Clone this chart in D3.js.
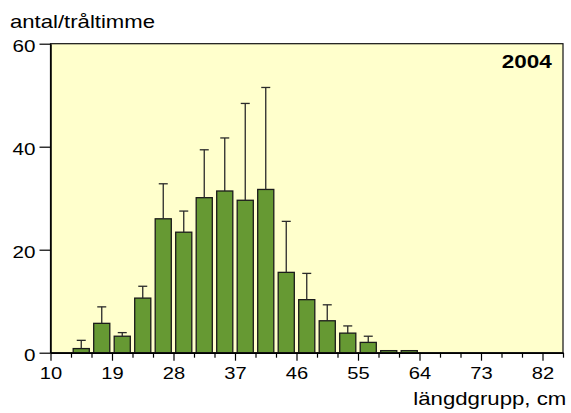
<!DOCTYPE html>
<html>
<head>
<meta charset="utf-8">
<script src="https://cdn.jsdelivr.net/npm/d3@7"></script>
<style>
  html, body { margin: 0; padding: 0; background: #ffffff; }
  svg { display: block; }
  text { font-family: "Liberation Sans", Arial, Helvetica, sans-serif; fill: #000; }
</style>
</head>
<body>
<svg id="chart" width="571" height="413"></svg>
<script>
// ---- data ----
const binStarts = [13, 16, 19, 22, 25, 28, 31, 34, 37, 40, 43, 46, 49, 52, 55, 58, 61];
const binWidth = 3;
const means = [0.8, 5.7, 3.2, 10.6, 26.0, 23.4, 30.1, 31.4, 29.6, 31.7, 15.6, 10.3, 6.2, 3.8, 2.0, 0.4, 0.4];
const upper = [2.4, 8.9, 3.9, 12.9, 32.8, 27.5, 39.4, 41.7, 48.4, 51.5, 25.5, 15.4, 9.3, 5.2, 3.2, null, null];
const xMajorTicks = [10, 19, 28, 37, 46, 55, 64, 73, 82];
const yTicks = [0, 20, 40, 60];
const yTitle = "antal/tråltimme";
const xTitle = "längdgrupp, cm";
const yearLabel = "2004";

// ---- layout ----
const svg = d3.select("#chart");
const mLeft = 50.5, mRight = 563, mTop = 43.7, mBottom = 352.7;

const x = d3.scaleLinear().domain([10, 85]).range([mLeft, mRight]);
const y = d3.scaleLinear().domain([0, 60]).range([mBottom, mTop]);

function stretch(sel, k) {
  sel.each(function () {
    const w = this.getComputedTextLength();
    this.setAttribute("textLength", w * k);
    this.setAttribute("lengthAdjust", "spacingAndGlyphs");
  });
}

// plot background + frame
svg.append("rect")
  .attr("x", mLeft).attr("y", mTop)
  .attr("width", mRight - mLeft).attr("height", mBottom - mTop)
  .attr("fill", "#ffffcc").attr("stroke", "#111").attr("stroke-width", 1.2);

// bars
const data = binStarts.map((s, i) => ({ s, m: means[i], u: upper[i] }));
svg.append("g").selectAll("rect").data(data).join("rect")
  .attr("x", d => x(d.s) + 2.2)
  .attr("width", d => x(d.s + binWidth) - x(d.s) - 4.4)
  .attr("y", d => y(d.m))
  .attr("height", d => y(0) - y(d.m))
  .attr("fill", "#669933")
  .attr("stroke", "#1a1a1a")
  .attr("stroke-width", 1.3);

// error bars
const eb = svg.append("g").attr("stroke", "#2a2a2a").attr("stroke-width", 1.3);
data.filter(d => d.u != null).forEach(d => {
  const cx = x(d.s + binWidth / 2);
  eb.append("line").attr("x1", cx).attr("x2", cx).attr("y1", y(d.m)).attr("y2", y(d.u));
  eb.append("line").attr("x1", cx - 4.5).attr("x2", cx + 4.5).attr("y1", y(d.u)).attr("y2", y(d.u));
});

// y axis
const gy = svg.append("g").attr("transform", `translate(${mLeft},0)`)
  .call(d3.axisLeft(y).tickValues(yTicks).tickSize(11).tickSizeOuter(0).tickPadding(4).tickFormat(d3.format("d")));
gy.select(".domain").attr("stroke", "#000").attr("stroke-width", 1.5);
gy.selectAll(".tick line").attr("stroke", "#000").attr("stroke-width", 1.2);
gy.selectAll("text").attr("font-size", 16.5).attr("dy", "7.5px")
  .style("font-family", "'Liberation Sans', Arial, sans-serif");
stretch(gy.selectAll("text"), 1.25);

// x axis minor ticks
const minorTicks = d3.range(10, 86, 3).filter(v => !xMajorTicks.includes(v));
const gxm = svg.append("g").attr("transform", `translate(0,${mBottom})`)
  .call(d3.axisBottom(x).tickValues(minorTicks).tickSize(5).tickSizeOuter(0).tickFormat(""));
gxm.select(".domain").remove();
gxm.selectAll(".tick line").attr("stroke", "#000").attr("stroke-width", 1.2);

// x axis major
const gx = svg.append("g").attr("transform", `translate(0,${mBottom})`)
  .call(d3.axisBottom(x).tickValues(xMajorTicks).tickSize(8).tickSizeOuter(0).tickFormat(d3.format("d")));
gx.select(".domain").attr("stroke", "#000").attr("stroke-width", 1.5);
gx.selectAll(".tick line").attr("stroke", "#000").attr("stroke-width", 1.2);
gx.selectAll("text").attr("font-size", 16.5).attr("dy", null).attr("y", 26.3)
  .style("font-family", "'Liberation Sans', Arial, sans-serif");
stretch(gx.selectAll("text"), 1.22);

// titles
svg.append("text").attr("x", 10).attr("y", 28.3).attr("font-size", 18.5)
  .attr("textLength", 145).attr("lengthAdjust", "spacingAndGlyphs").text(yTitle);
svg.append("text").attr("x", 413.3).attr("y", 405).attr("font-size", 18.5)
  .attr("textLength", 153).attr("lengthAdjust", "spacingAndGlyphs").text(xTitle);
svg.append("text").attr("x", 501.7).attr("y", 68).attr("font-size", 18).attr("font-weight", "bold")
  .attr("textLength", 50).attr("lengthAdjust", "spacingAndGlyphs").text(yearLabel);
</script>
</body>
</html>
